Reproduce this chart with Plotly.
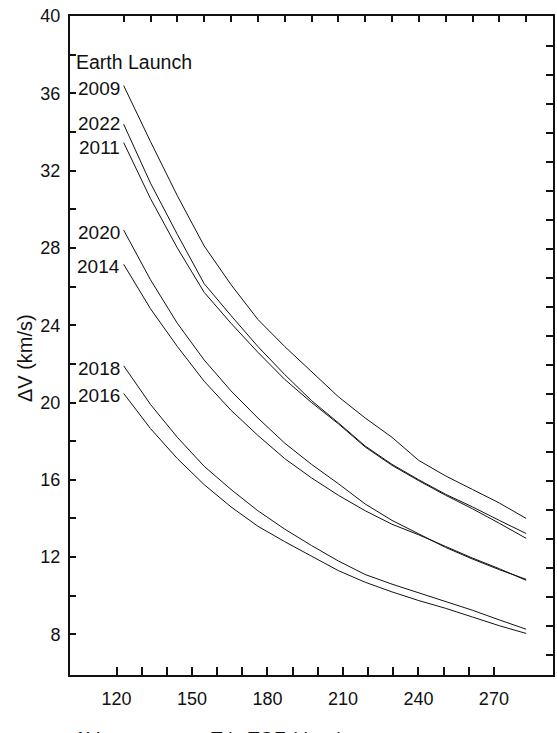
import numpy as np
import plotly.graph_objects as go

# Time of flight (days) sampled for every launch year
tof_days = [120, 130, 140, 150, 160, 170, 180, 190, 200, 210, 220, 230, 240, 250, 260, 270]

# Total delta-V (km/s) per Earth launch year
dv_2009 = [36.4, 33.5, 30.7, 28.1, 26.1, 24.3, 22.9, 21.6, 20.3, 19.2, 18.2, 17.0, 16.2, 15.5, 14.8, 14.0]
dv_2022 = [34.4, 31.35, 28.7, 26.15, 24.5, 22.9, 21.45, 20.1, 18.95, 17.75, 16.8, 16.0, 15.25, 14.6, 13.9, 13.22]
dv_2011 = [33.45, 30.55, 28.0, 25.7, 24.1, 22.6, 21.2, 20.0, 18.9, 17.7, 16.75, 15.95, 15.2, 14.5, 13.75, 12.97]
dv_2020 = [28.92, 26.35, 24.1, 22.2, 20.6, 19.2, 17.9, 16.8, 15.8, 14.75, 13.9, 13.2, 12.5, 11.9, 11.35, 10.85]
dv_2014 = [27.15, 24.85, 22.9, 21.1, 19.6, 18.3, 17.1, 16.1, 15.2, 14.4, 13.7, 13.15, 12.55, 11.95, 11.4, 10.8]
dv_2018 = [21.9, 19.9, 18.2, 16.7, 15.5, 14.4, 13.45, 12.6, 11.8, 11.1, 10.6, 10.15, 9.7, 9.25, 8.75, 8.27]
dv_2016 = [20.47, 18.65, 17.1, 15.75, 14.6, 13.6, 12.8, 12.05, 11.3, 10.7, 10.2, 9.75, 9.35, 8.9, 8.45, 8.05]

launch_years = ["2009", "2022", "2011", "2020", "2014", "2018", "2016"]
series = [dv_2009, dv_2022, dv_2011, dv_2020, dv_2014, dv_2018, dv_2016]

# Axis tick labels
x_ticks = list(range(120, 271, 10))
x_labels = [str(v) if v % 30 == 0 else "" for v in x_ticks]
y_ticks = list(range(8, 41, 2))
y_labels = [str(v) if v % 4 == 0 else "" for v in y_ticks]

FONT = "Liberation Sans, Arial, sans-serif"
INK = "#111111"
LABEL_SIZE = 19

# small vertical nudges so the two close labels at the top stay apart
label_nudge = {"2022": 1, "2011": -4}

fig = go.Figure()
for year, dv in zip(launch_years, series):
    fig.add_trace(go.Scatter(
        x=tof_days, y=dv, mode="lines", name=year,
        xaxis="x2", yaxis="y",
        line=dict(color=INK, width=1),
        showlegend=False, hoverinfo="x+y+name",
    ))
    fig.add_annotation(
        x=tof_days[0], y=dv[0], xref="x2", yref="y",
        text=year, showarrow=False, xanchor="right", yanchor="middle",
        xshift=-3, yshift=label_nudge.get(year, -2), height=16, borderpad=0,
        font=dict(family=FONT, size=LABEL_SIZE, color=INK),
    )

# Transparent copies so the bottom and right frame axes get drawn
for xa, ya in (("x", "y"), ("x2", "y2")):
    fig.add_trace(go.Scatter(
        x=tof_days, y=dv_2009, mode="lines", xaxis=xa, yaxis=ya,
        opacity=0, hoverinfo="skip", showlegend=False,
    ))

fig.add_annotation(
    x=100, y=37.6, xref="x2", yref="y", text="Earth Launch",
    showarrow=False, xanchor="left", yanchor="middle", xshift=5,
    height=16, borderpad=0,
    font=dict(family=FONT, size=19.5, color=INK),
)

# Axis titles
fig.add_annotation(
    x=-0.093, y=0.481, xref="paper", yref="paper", text="ΔV (km/s)",
    textangle=-90, showarrow=False, xanchor="center", yanchor="middle",
    font=dict(family=FONT, size=20, color=INK),
)
fig.add_annotation(
    x=0.004, y=-0.078, xref="paper", yref="paper",
    text="ΔV vs. one-way Trip TOF (days)",
    showarrow=False, xanchor="left", yanchor="top",
    font=dict(family=FONT, size=19, color=INK),
)

fig.update_layout(
    width=557, height=733,
    margin=dict(l=70, r=2, t=16, b=58),
    paper_bgcolor="white", plot_bgcolor="white",
    font=dict(family=FONT, size=18, color=INK),
    xaxis=dict(
        range=[101.5, 293.5], tickmode="array", tickvals=x_ticks, ticktext=x_labels,
        ticks="inside", ticklen=8, tickwidth=1.5, tickcolor=INK,
        showline=True, linecolor=INK, linewidth=2, mirror=True,
        showgrid=False, zeroline=False, ticklabelstandoff=6,
    ),
    xaxis2=dict(
        range=[100, 280], overlaying="x", side="top", anchor="y", tickmode="array",
        tickvals=x_ticks, showticklabels=False,
        ticks="inside", ticklen=6, tickwidth=1.5, tickcolor=INK,
        showline=False, showgrid=False, zeroline=False,
    ),
    yaxis=dict(
        range=[5.9, 40], tickmode="array", tickvals=y_ticks, ticktext=y_labels,
        ticks="inside", ticklen=6, tickwidth=1.5, tickcolor=INK,
        showline=True, linecolor=INK, linewidth=2, mirror=True,
        showgrid=False, zeroline=False, ticklabelstandoff=4,
    ),
    yaxis2=dict(
        range=[5.9, 40], overlaying="y", side="right", anchor="x", tickmode="array",
        tickvals=list(np.arange(38.46, 6.5, -1.5)), showticklabels=False,
        ticks="inside", ticklen=7, tickwidth=1.5, tickcolor=INK,
        showline=False, showgrid=False, zeroline=False,
    ),
)

fig.write_html("out.html")
